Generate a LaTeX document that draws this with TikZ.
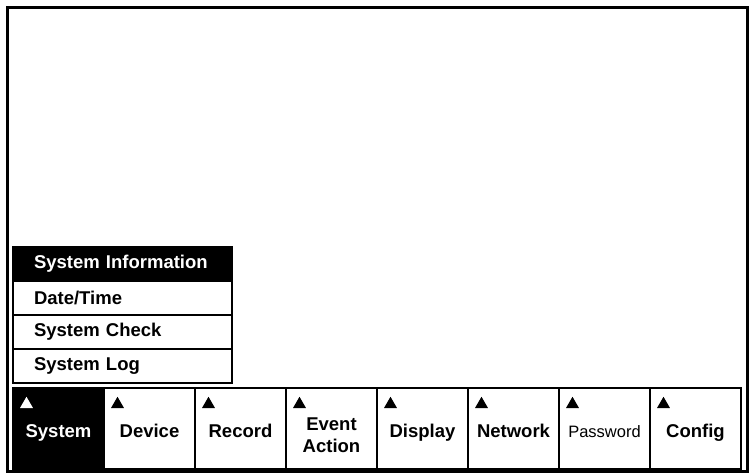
\documentclass[tikz,border=0pt]{standalone}
\usepackage{fontspec}
\setmainfont{Liberation Sans}
\usetikzlibrary{positioning,shapes.geometric}

\begin{document}
\begin{tikzpicture}[x=1pt,y=-1pt,node distance=0pt,outer sep=0pt,
    tab/.style={draw,line width=1.6pt,minimum width=91pt,minimum height=81pt,inner sep=0pt},
    lbl/.style={anchor=base,inner sep=0pt,align=center,font=\fontsize{18.5}{22}\selectfont\bfseries},
    item/.style={draw,line width=1.3pt,minimum height=34pt,text width=219pt,inner xsep=0pt,inner ysep=0pt,align=left,font=\fontsize{18.5}{20}\selectfont\bfseries},
    tri/.style={regular polygon,regular polygon sides=3,fill=black,inner sep=0pt,minimum size=15pt,anchor=corner 2}]

            \useasboundingbox (0,0) rectangle (752,475);

            % screen frame
            \node[draw,line width=2.6pt,minimum width=740pt,minimum height=464pt,anchor=north west] (screen) at (7.5,7.5) {};

            % popup menu
            \node[item,fill=black,text=white,anchor=north west] (info) at (13,247) {\hspace*{21pt}System Information};
            \node[item] (date) [below = of info]{\hspace*{21pt}Date/Time};
            \node[item] (check) [below = of date]{\hspace*{21pt}System Check};
            \node[item] (log) [below = of check]{\hspace*{21pt}System Log};

            % menu bar
            \node[tab,fill=black,anchor=north west] (sys) at (13,388) {};
            \node[tab] (dev) [right = of sys]{};
            \node[tab] (rec) [right = of dev]{};
            \node[tab] (evt) [right = of rec]{};
            \node[tab] (disp) [right = of evt]{};
            \node[tab] (net) [right = of disp]{};
            \node[tab] (pwd) [right = of net]{};
            \node[tab] (conf) [right = of pwd]{};

            \node[lbl,text=white] (systxt) at ([yshift=32pt]sys.south) {System};
            \node[lbl] (devtxt) at ([yshift=32pt]dev.south) {Device};
            \node[lbl] (rectxt) at ([yshift=32pt]rec.south) {Record};
            \node[lbl] (evttxt) at ([yshift=17pt]evt.south) {Event\\Action};
            \node[lbl] (disptxt) at ([yshift=32pt]disp.south) {Display};
            \node[lbl] (nettxt) at ([yshift=32pt]net.south) {Network};
            \node[lbl,font=\fontsize{16.5}{20}\selectfont] (pwdtxt) at ([yshift=32pt]pwd.south) {Password};
            \node[lbl] (conftxt) at ([yshift=32pt]conf.south) {Config};

            \node[tri,fill=white] (systri) at ([shift={(7,20)}]sys.north west) {};
            \node[tri] (devtri) at ([shift={(7,20)}]dev.north west) {};
            \node[tri] (rectri) at ([shift={(7,20)}]rec.north west) {};
            \node[tri] (evttri) at ([shift={(7,20)}]evt.north west) {};
            \node[tri] (disptri) at ([shift={(7,20)}]disp.north west) {};
            \node[tri] (nettri) at ([shift={(7,20)}]net.north west) {};
            \node[tri] (pwdtri) at ([shift={(7,20)}]pwd.north west) {};
            \node[tri] (conftri) at ([shift={(7,20)}]conf.north west) {};

            ;
        \end{tikzpicture}
\end{document}
